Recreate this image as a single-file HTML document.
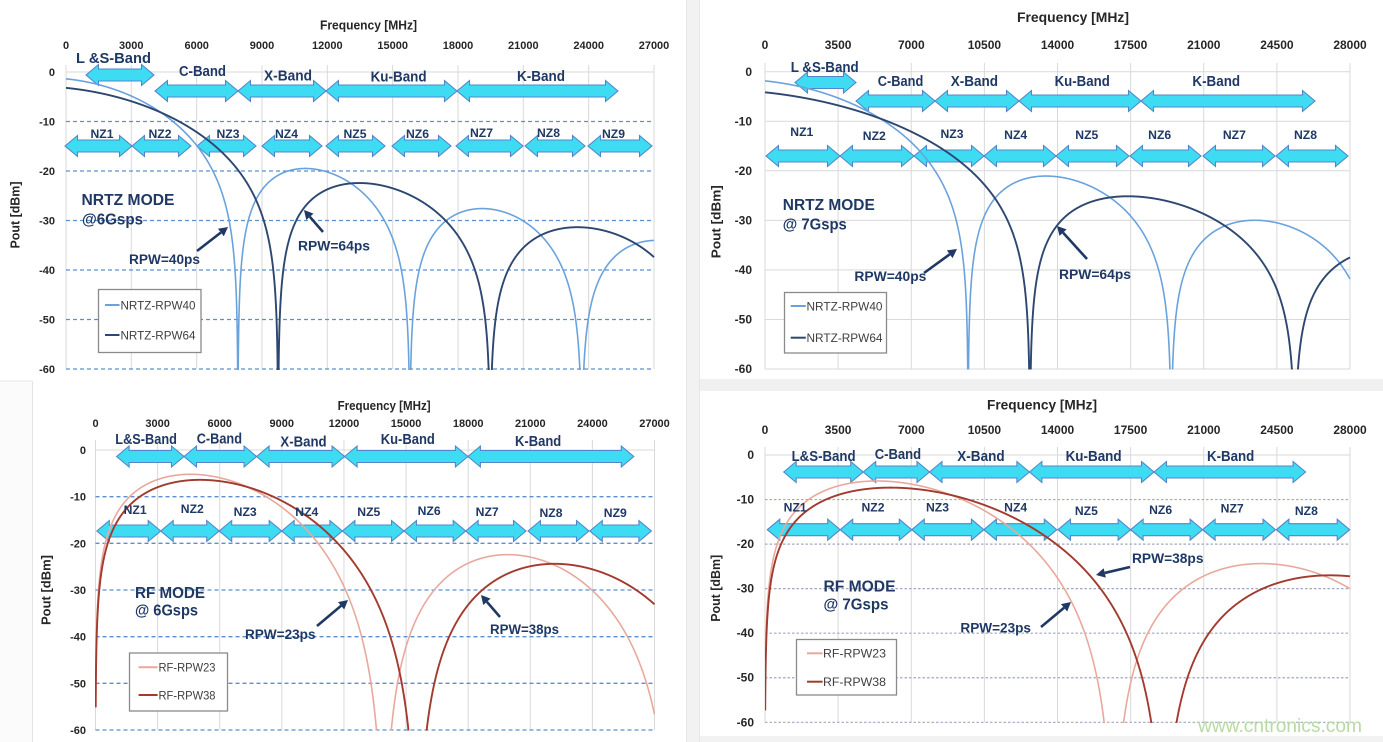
<!DOCTYPE html>
<html><head><meta charset="utf-8">
<style>
html,body{margin:0;padding:0;background:#fff;width:1383px;height:742px;overflow:hidden;}
svg{display:block;position:absolute;left:0;top:0;}
text{font-family:"Liberation Sans",Arial,sans-serif;}
.tk{font-weight:bold;font-size:11px;fill:#262626;}
.tk2{font-weight:bold;font-size:12px;fill:#262626;}
.ax{font-weight:bold;font-size:12.5px;fill:#262626;}
.bd{font-weight:bold;font-size:14.5px;fill:#1f3864;}
.nz{font-weight:bold;font-size:12px;fill:#1f3864;}
.md{font-weight:bold;font-size:15.5px;fill:#1f3864;}
.rp{font-weight:bold;font-size:13.5px;fill:#1f3864;}
.lg{font-size:11.5px;fill:#404040;}
</style></head><body>
<svg id="s" width="1383" height="742" viewBox="0 0 1383 742" xmlns="http://www.w3.org/2000/svg" overflow="hidden">
<defs>
<clipPath id="c0"><rect x="66" y="0" width="589" height="370"/></clipPath>
<clipPath id="c1"><rect x="765" y="0" width="586" height="369.5"/></clipPath>
<clipPath id="c2"><rect x="95" y="400" width="560" height="330.5"/></clipPath>
<clipPath id="c3"><rect x="765" y="400" width="586" height="323"/></clipPath>
</defs>
<rect x="0" y="0" width="1383" height="742" fill="#fff"/>
<!-- separators -->
<rect x="686" y="0" width="14" height="742" fill="#f2f2f2"/>
<line x1="686.5" y1="0" x2="686.5" y2="742" stroke="#e6e6e6"/>
<line x1="699.5" y1="0" x2="699.5" y2="742" stroke="#e6e6e6"/>
<rect x="700" y="379" width="683" height="12" fill="#f0f0f0"/>
<rect x="0" y="381" width="32" height="361" fill="#fbfbfb"/>
<line x1="0" y1="381" x2="32" y2="381" stroke="#e4e4e4"/>
<line x1="32.5" y1="381" x2="32.5" y2="742" stroke="#e4e4e4"/>
<rect x="700" y="736" width="683" height="6" fill="#f2f2f2"/>

<g id="geo"></g>

<!-- ============ TOP LEFT ============ -->
<text class="ax" x="320" y="29.5" textLength="97" lengthAdjust="spacingAndGlyphs">Frequency [MHz]</text>
<g class="tk" text-anchor="middle">
<text x="66" y="49">0</text><text x="131.3" y="49">3000</text><text x="196.7" y="49">6000</text><text x="262" y="49">9000</text><text x="327.3" y="49">12000</text><text x="392.7" y="49">15000</text><text x="458" y="49">18000</text><text x="523.3" y="49">21000</text><text x="588.7" y="49">24000</text><text x="654" y="49">27000</text>
</g>
<g class="tk" text-anchor="end">
<text x="55" y="76">0</text><text x="55" y="125.5">-10</text><text x="55" y="175">-20</text><text x="55" y="224.5">-30</text><text x="55" y="274">-40</text><text x="55" y="323.5">-50</text><text x="55" y="373">-60</text>
</g>
<text class="ax" transform="translate(19.5,215) rotate(-90)" x="-33.5" y="0" textLength="67" lengthAdjust="spacingAndGlyphs">Pout [dBm]</text>
<text class="bd" x="76" y="63" textLength="75" lengthAdjust="spacingAndGlyphs">L &amp;S-Band</text>
<text class="bd" x="179" y="76" textLength="47" lengthAdjust="spacingAndGlyphs">C-Band</text>
<text class="bd" x="264" y="80.5" textLength="48" lengthAdjust="spacingAndGlyphs">X-Band</text>
<text class="bd" x="370.6" y="81.5" textLength="56" lengthAdjust="spacingAndGlyphs">Ku-Band</text>
<text class="bd" x="517" y="81" textLength="48" lengthAdjust="spacingAndGlyphs">K-Band</text>
<g class="nz">
<text x="90.5" y="138" textLength="23" lengthAdjust="spacingAndGlyphs">NZ1</text>
<text x="148.5" y="138" textLength="23" lengthAdjust="spacingAndGlyphs">NZ2</text>
<text x="216.5" y="138" textLength="23" lengthAdjust="spacingAndGlyphs">NZ3</text>
<text x="275" y="138" textLength="23" lengthAdjust="spacingAndGlyphs">NZ4</text>
<text x="343.5" y="138" textLength="23" lengthAdjust="spacingAndGlyphs">NZ5</text>
<text x="406" y="138" textLength="23" lengthAdjust="spacingAndGlyphs">NZ6</text>
<text x="470" y="137" textLength="23" lengthAdjust="spacingAndGlyphs">NZ7</text>
<text x="537" y="137" textLength="23" lengthAdjust="spacingAndGlyphs">NZ8</text>
<text x="602" y="138" textLength="23" lengthAdjust="spacingAndGlyphs">NZ9</text>
</g>
<text class="md" x="81.5" y="205" textLength="93" lengthAdjust="spacingAndGlyphs">NRTZ MODE</text>
<text class="md" x="82" y="224.5" textLength="61" lengthAdjust="spacingAndGlyphs">@6Gsps</text>
<text class="rp" x="129" y="264" textLength="71" lengthAdjust="spacingAndGlyphs">RPW=40ps</text>
<text class="rp" x="298" y="250.5" textLength="72" lengthAdjust="spacingAndGlyphs">RPW=64ps</text>
<rect x="98.5" y="289.5" width="102.5" height="63" fill="#fff" stroke="#8a8a8a" stroke-width="1.3"/>
<line x1="105" y1="305" x2="119.5" y2="305" stroke="#6aa2de" stroke-width="2"/>
<text class="lg" x="120.5" y="309.5" textLength="75" lengthAdjust="spacingAndGlyphs">NRTZ-RPW40</text>
<line x1="105" y1="335" x2="119.5" y2="335" stroke="#2d4770" stroke-width="2"/>
<text class="lg" x="120.5" y="339.5" textLength="75" lengthAdjust="spacingAndGlyphs">NRTZ-RPW64</text>

<!-- ============ TOP RIGHT ============ -->
<text class="ax" x="1017" y="22" textLength="112" lengthAdjust="spacingAndGlyphs" style="font-size:13.5px">Frequency [MHz]</text>
<g class="tk2" text-anchor="middle">
<text x="765" y="49">0</text><text x="838.1" y="49">3500</text><text x="911.3" y="49">7000</text><text x="984.4" y="49">10500</text><text x="1057.5" y="49">14000</text><text x="1130.6" y="49">17500</text><text x="1203.8" y="49">21000</text><text x="1276.9" y="49">24500</text><text x="1350" y="49">28000</text>
</g>
<g class="tk2" text-anchor="end">
<text x="752" y="76">0</text><text x="752" y="125.5">-10</text><text x="752" y="175">-20</text><text x="752" y="224.5">-30</text><text x="752" y="274">-40</text><text x="752" y="323.5">-50</text><text x="752" y="373">-60</text>
</g>
<text class="ax" transform="translate(720.5,221.7) rotate(-90)" x="-36.5" y="0" textLength="73" lengthAdjust="spacingAndGlyphs" style="font-size:13px">Pout [dBm]</text>
<text class="bd" x="790.7" y="72" textLength="68" lengthAdjust="spacingAndGlyphs">L &amp;S-Band</text>
<text class="bd" x="877.8" y="86" textLength="45.5" lengthAdjust="spacingAndGlyphs">C-Band</text>
<text class="bd" x="950.7" y="86" textLength="47.3" lengthAdjust="spacingAndGlyphs">X-Band</text>
<text class="bd" x="1054.6" y="86" textLength="55.2" lengthAdjust="spacingAndGlyphs">Ku-Band</text>
<text class="bd" x="1192.4" y="86" textLength="47.7" lengthAdjust="spacingAndGlyphs">K-Band</text>
<g class="nz">
<text x="790.3" y="136" textLength="23" lengthAdjust="spacingAndGlyphs">NZ1</text>
<text x="862.8" y="140" textLength="23" lengthAdjust="spacingAndGlyphs">NZ2</text>
<text x="940.5" y="138" textLength="23" lengthAdjust="spacingAndGlyphs">NZ3</text>
<text x="1004.2" y="139" textLength="23" lengthAdjust="spacingAndGlyphs">NZ4</text>
<text x="1075.3" y="139" textLength="23" lengthAdjust="spacingAndGlyphs">NZ5</text>
<text x="1148.2" y="139" textLength="23" lengthAdjust="spacingAndGlyphs">NZ6</text>
<text x="1222.9" y="139" textLength="23" lengthAdjust="spacingAndGlyphs">NZ7</text>
<text x="1294" y="139" textLength="23" lengthAdjust="spacingAndGlyphs">NZ8</text>
</g>
<text class="md" x="782.8" y="210" textLength="92" lengthAdjust="spacingAndGlyphs">NRTZ MODE</text>
<text class="md" x="782.8" y="229.5" textLength="64" lengthAdjust="spacingAndGlyphs">@ 7Gsps</text>
<text class="rp" x="854.4" y="281" textLength="72" lengthAdjust="spacingAndGlyphs">RPW=40ps</text>
<text class="rp" x="1059" y="279" textLength="72" lengthAdjust="spacingAndGlyphs">RPW=64ps</text>
<rect x="784.5" y="292.5" width="102" height="60.5" fill="#fff" stroke="#8a8a8a" stroke-width="1.3"/>
<line x1="790.7" y1="306" x2="805.8" y2="306" stroke="#6aa2de" stroke-width="2"/>
<text class="lg" x="806.5" y="310.5" textLength="76" lengthAdjust="spacingAndGlyphs">NRTZ-RPW40</text>
<line x1="790.7" y1="337.7" x2="805.8" y2="337.7" stroke="#2d4770" stroke-width="2"/>
<text class="lg" x="806.5" y="342" textLength="76" lengthAdjust="spacingAndGlyphs">NRTZ-RPW64</text>

<!-- ============ BOTTOM LEFT ============ -->
<text class="ax" x="337.6" y="410" textLength="93" lengthAdjust="spacingAndGlyphs">Frequency [MHz]</text>
<g class="tk" text-anchor="middle">
<text x="95.5" y="427">0</text><text x="157.6" y="427">3000</text><text x="219.7" y="427">6000</text><text x="281.8" y="427">9000</text><text x="343.9" y="427">12000</text><text x="406.1" y="427">15000</text><text x="468.2" y="427">18000</text><text x="530.3" y="427">21000</text><text x="592.4" y="427">24000</text><text x="654.5" y="427">27000</text>
</g>
<g class="tk" text-anchor="end">
<text x="86" y="454">0</text><text x="86" y="500.7">-10</text><text x="86" y="547.3">-20</text><text x="86" y="594">-30</text><text x="86" y="640.7">-40</text><text x="86" y="687.3">-50</text><text x="86" y="734">-60</text>
</g>
<text class="ax" transform="translate(50.7,590) rotate(-90)" x="-35" y="0" textLength="70" lengthAdjust="spacingAndGlyphs">Pout [dBm]</text>
<text class="bd" x="115.3" y="444" textLength="61.6" lengthAdjust="spacingAndGlyphs">L&amp;S-Band</text>
<text class="bd" x="196.7" y="443.5" textLength="45.3" lengthAdjust="spacingAndGlyphs">C-Band</text>
<text class="bd" x="280.4" y="446.5" textLength="46.2" lengthAdjust="spacingAndGlyphs">X-Band</text>
<text class="bd" x="380.7" y="444" textLength="54.2" lengthAdjust="spacingAndGlyphs">Ku-Band</text>
<text class="bd" x="515" y="446" textLength="46.2" lengthAdjust="spacingAndGlyphs">K-Band</text>
<g class="nz">
<text x="123.6" y="514" textLength="23" lengthAdjust="spacingAndGlyphs">NZ1</text>
<text x="180.8" y="513" textLength="23" lengthAdjust="spacingAndGlyphs">NZ2</text>
<text x="233.7" y="516" textLength="23" lengthAdjust="spacingAndGlyphs">NZ3</text>
<text x="295.3" y="516" textLength="23" lengthAdjust="spacingAndGlyphs">NZ4</text>
<text x="357.3" y="516" textLength="23" lengthAdjust="spacingAndGlyphs">NZ5</text>
<text x="417.6" y="515" textLength="23" lengthAdjust="spacingAndGlyphs">NZ6</text>
<text x="475.7" y="516" textLength="23" lengthAdjust="spacingAndGlyphs">NZ7</text>
<text x="539.5" y="517" textLength="23" lengthAdjust="spacingAndGlyphs">NZ8</text>
<text x="603.8" y="517" textLength="23" lengthAdjust="spacingAndGlyphs">NZ9</text>
</g>
<text class="md" x="135" y="598" textLength="70" lengthAdjust="spacingAndGlyphs">RF MODE</text>
<text class="md" x="135" y="615.5" textLength="63" lengthAdjust="spacingAndGlyphs">@ 6Gsps</text>
<text class="rp" x="245" y="639" textLength="70.5" lengthAdjust="spacingAndGlyphs">RPW=23ps</text>
<text class="rp" x="490" y="634" textLength="69" lengthAdjust="spacingAndGlyphs">RPW=38ps</text>
<rect x="129.5" y="653" width="98" height="58" fill="#fff" stroke="#8a8a8a" stroke-width="1.3"/>
<line x1="138.6" y1="667.3" x2="157.6" y2="667.3" stroke="#e9a89c" stroke-width="2"/>
<text class="lg" x="158.5" y="671.5" textLength="57" lengthAdjust="spacingAndGlyphs">RF-RPW23</text>
<line x1="138.6" y1="695" x2="157.6" y2="695" stroke="#a23a2e" stroke-width="2"/>
<text class="lg" x="158.5" y="699.5" textLength="57" lengthAdjust="spacingAndGlyphs">RF-RPW38</text>

<!-- ============ BOTTOM RIGHT ============ -->
<text class="ax" x="987" y="409.5" textLength="110" lengthAdjust="spacingAndGlyphs" style="font-size:13.5px">Frequency [MHz]</text>
<g class="tk2" text-anchor="middle">
<text x="765" y="434">0</text><text x="838.1" y="434">3500</text><text x="911.3" y="434">7000</text><text x="984.4" y="434">10500</text><text x="1057.5" y="434">14000</text><text x="1130.6" y="434">17500</text><text x="1203.8" y="434">21000</text><text x="1276.9" y="434">24500</text><text x="1350" y="434">28000</text>
</g>
<g class="tk2" text-anchor="end">
<text x="754" y="459">0</text><text x="754" y="503.5">-10</text><text x="754" y="548">-20</text><text x="754" y="592.6">-30</text><text x="754" y="637.2">-40</text><text x="754" y="681.7">-50</text><text x="754" y="726.3">-60</text>
</g>
<text class="ax" transform="translate(719.8,588.3) rotate(-90)" x="-33.5" y="0" textLength="67" lengthAdjust="spacingAndGlyphs" style="font-size:13px">Pout [dBm]</text>
<text class="bd" x="791.6" y="461" textLength="64" lengthAdjust="spacingAndGlyphs">L&amp;S-Band</text>
<text class="bd" x="874.7" y="459" textLength="46.4" lengthAdjust="spacingAndGlyphs">C-Band</text>
<text class="bd" x="957.3" y="461" textLength="47.3" lengthAdjust="spacingAndGlyphs">X-Band</text>
<text class="bd" x="1065.6" y="461" textLength="56" lengthAdjust="spacingAndGlyphs">Ku-Band</text>
<text class="bd" x="1207" y="461" textLength="47.3" lengthAdjust="spacingAndGlyphs">K-Band</text>
<g class="nz">
<text x="783.7" y="511.5" textLength="23" lengthAdjust="spacingAndGlyphs">NZ1</text>
<text x="861.5" y="511.5" textLength="23" lengthAdjust="spacingAndGlyphs">NZ2</text>
<text x="926" y="511.5" textLength="23" lengthAdjust="spacingAndGlyphs">NZ3</text>
<text x="1004.2" y="511.5" textLength="23" lengthAdjust="spacingAndGlyphs">NZ4</text>
<text x="1074.9" y="515" textLength="23" lengthAdjust="spacingAndGlyphs">NZ5</text>
<text x="1149.1" y="514" textLength="23" lengthAdjust="spacingAndGlyphs">NZ6</text>
<text x="1220.7" y="512.5" textLength="23" lengthAdjust="spacingAndGlyphs">NZ7</text>
<text x="1294.9" y="515" textLength="23" lengthAdjust="spacingAndGlyphs">NZ8</text>
</g>
<text class="md" x="823.5" y="591.5" textLength="72" lengthAdjust="spacingAndGlyphs">RF MODE</text>
<text class="md" x="823.5" y="609.5" textLength="65" lengthAdjust="spacingAndGlyphs">@ 7Gsps</text>
<text class="rp" x="1132" y="563" textLength="71.5" lengthAdjust="spacingAndGlyphs">RPW=38ps</text>
<text class="rp" x="960.4" y="632.5" textLength="70.6" lengthAdjust="spacingAndGlyphs">RPW=23ps</text>
<rect x="796.5" y="639.5" width="100" height="55.5" fill="#fff" stroke="#8a8a8a" stroke-width="1.3"/>
<line x1="807" y1="653.3" x2="822.6" y2="653.3" stroke="#e9a89c" stroke-width="2"/>
<text class="lg" x="823" y="657.5" textLength="63" lengthAdjust="spacingAndGlyphs">RF-RPW23</text>
<line x1="807" y1="681.7" x2="822.6" y2="681.7" stroke="#a23a2e" stroke-width="2"/>
<text class="lg" x="823" y="686" textLength="63" lengthAdjust="spacingAndGlyphs">RF-RPW38</text>

<text x="1198" y="732" textLength="164" lengthAdjust="spacingAndGlyphs" style="font-size:19px;fill:#b7dba4;">www.cntronics.com</text>
</svg>
<script>
(function(){
var NS='http://www.w3.org/2000/svg';
var geo=document.getElementById('geo');
function mk(tag,a,p){var e=document.createElementNS(NS,tag);for(var k in a)e.setAttribute(k,a[k]);(p||geo).appendChild(e);return e;}
var K=0.435;
function val(p,f,r){
  if(p.rf){var t=p.Ts/2-r/2,x=Math.PI*f*t;var s=Math.sin(x);var h=2*t/p.Ts*s*s/x;return 1+20*Math.log10(h)-K*f;}
  var t2=p.Ts-r,x2=Math.PI*f*t2;var s2=x2<1e-9?1:Math.abs(Math.sin(x2)/x2);return 1+20*Math.log10(t2/p.Ts*s2)-K*f;
}
var LB='#6aa2de',DB='#2d4770',LR='#e9a89c',DR='#a23a2e';
var P=[
 {x0:66,x1:654,n:9,fm:27,y0:72,ym:369,top:65,Ts:1/6,rf:0,r:[0.040,0.064],c:[LB,DB],g:'db',clip:'c0',
  bands:[[86,154,75],[155,238,91],[238,326,91],[326,457,91],[457,618,91]],
  nzy:146,nz:[[65,132],[132,191],[197,256],[262,322],[326,385],[392,451],[456,523],[525,585],[588,652]],
  ann:[[197,251,228,227],[323,232,304,210]]},
 {x0:765,x1:1350,n:8,fm:28,y0:71.7,ym:369,top:63,Ts:1/7,rf:0,r:[0.040,0.064],c:[LB,DB],g:'gray',clip:'c1',
  bands:[[795,856,82.5],[856,935,101],[935,1019,101],[1019,1141,101],[1141,1315,101]],
  nzy:156,nz:[[766,840],[840,914],[914,984],[984,1056],[1056,1129],[1130,1201],[1203,1275],[1276,1348]],
  ann:[[924,273,957,249],[1087,259,1057,226]]},
 {x0:95.5,x1:654.5,n:9,fm:27,y0:450,ym:730,top:440,Ts:1/6,rf:1,r:[0.023,0.038],c:[LR,DR],g:'db',clip:'c2',
  bands:[[116.6,184,456.5],[184,256.6,456.5],[256.6,344.6,456.5],[344.6,467.9,456.5],[467.9,633.8,456.5]],
  nzy:531,nz:[[96.8,160.7],[160.7,219.2],[219.2,281.7],[281.7,342.4],[342.4,404],[404,465.7],[465.7,526],[528,589],[589.8,651.4]],
  ann:[[317,626,348,600],[500,617,481,595]]},
 {x0:765,x1:1350,n:8,fm:28,y0:455,ym:722.3,top:447,Ts:1/7,rf:1,r:[0.023,0.038],c:[LR,DR],g:'dot',clip:'c3',
  bands:[[783.7,863.2,472],[863.2,929.5,472],[929.5,1029.4,472],[1029.4,1154,472],[1154,1305.6,472]],
  nzy:529.7,nz:[[767.3,840.2],[840.2,911.8],[911.8,983.9],[983.9,1056.8],[1058,1130.6],[1130.6,1202.6],[1202.6,1275.5],[1276.4,1349.7]],
  ann:[[1130,567,1096,575],[1041,627,1071,602]]}
];
function barrow(x1,x2,yc){
  var H=21,S=12,L=12.5;
  var pts=[[x1,yc],[x1+L,yc-H/2],[x1+L,yc-S/2],[x2-L,yc-S/2],[x2-L,yc-H/2],[x2,yc],[x2-L,yc+H/2],[x2-L,yc+S/2],[x1+L,yc+S/2],[x1+L,yc+H/2]];
  mk('polygon',{points:pts.map(function(p){return p[0].toFixed(1)+','+p[1].toFixed(1);}).join(' '),fill:'#3edcf2',stroke:'#5585c8','stroke-width':1.1,'stroke-linejoin':'miter'});
}
function ann(a){
  var x1=a[0],y1=a[1],x2=a[2],y2=a[3];
  var ang=Math.atan2(y2-y1,x2-x1),L=9,W=4.8;
  var bx=x2-L*Math.cos(ang),by=y2-L*Math.sin(ang);
  mk('line',{x1:x1,y1:y1,x2:bx,y2:by,stroke:'#1f3864','stroke-width':2.6});
  var p1=[bx+W*Math.sin(ang),by-W*Math.cos(ang)],p2=[bx-W*Math.sin(ang),by+W*Math.cos(ang)];
  mk('polygon',{points:x2+','+y2+' '+p1[0]+','+p1[1]+' '+p2[0]+','+p2[1],fill:'#1f3864'});
}
P.forEach(function(p){
  var i,x,y;
  for(i=0;i<=p.n;i++){x=p.x0+i*(p.x1-p.x0)/p.n;mk('line',{x1:x,y1:p.top,x2:x,y2:p.ym,stroke:'#d9d9d9','stroke-width':1});}
  for(i=0;i<=6;i++){
    y=p.y0+i*(p.ym-p.y0)/6;
    if(i==0||p.g=='gray'){mk('line',{x1:p.x0,y1:y,x2:p.x1,y2:y,stroke:'#d9d9d9','stroke-width':1});}
    else if(p.g=='db'){mk('line',{x1:p.x0,y1:y,x2:p.x1,y2:y,stroke:'#5b8fd0','stroke-width':1.3,'stroke-dasharray':'4 3'});}
    else {mk('line',{x1:p.x0,y1:y,x2:p.x1,y2:y,stroke:'#a0a8c4','stroke-width':1.2,'stroke-dasharray':'2.5 2'});}
  }
  p.bands.forEach(function(b){barrow(b[0],b[1],b[2]);});
  p.nz.forEach(function(b){barrow(b[0],b[1],p.nzy);});
  for(var k=0;k<2;k++){
    var d='',f0=p.rf?0.01:0,f;
    for(f=f0;f<=p.fm+1e-9;f+=0.004){
      var v=val(p,f,p.r[k]);if(!isFinite(v)||v<-61.5)v=-61.5;
      var X=p.x0+f/p.fm*(p.x1-p.x0),Y=p.y0+(-v)/60*(p.ym-p.y0);
      d+=(d?'L':'M')+X.toFixed(2)+' '+Y.toFixed(2);
    }
    mk('path',{d:d,fill:'none',stroke:p.c[k],'stroke-width':k?1.9:1.6,'clip-path':'url(#'+p.clip+')','stroke-linejoin':'round'});
  }
  p.ann.forEach(ann);
});
})();
</script>
</body></html>
